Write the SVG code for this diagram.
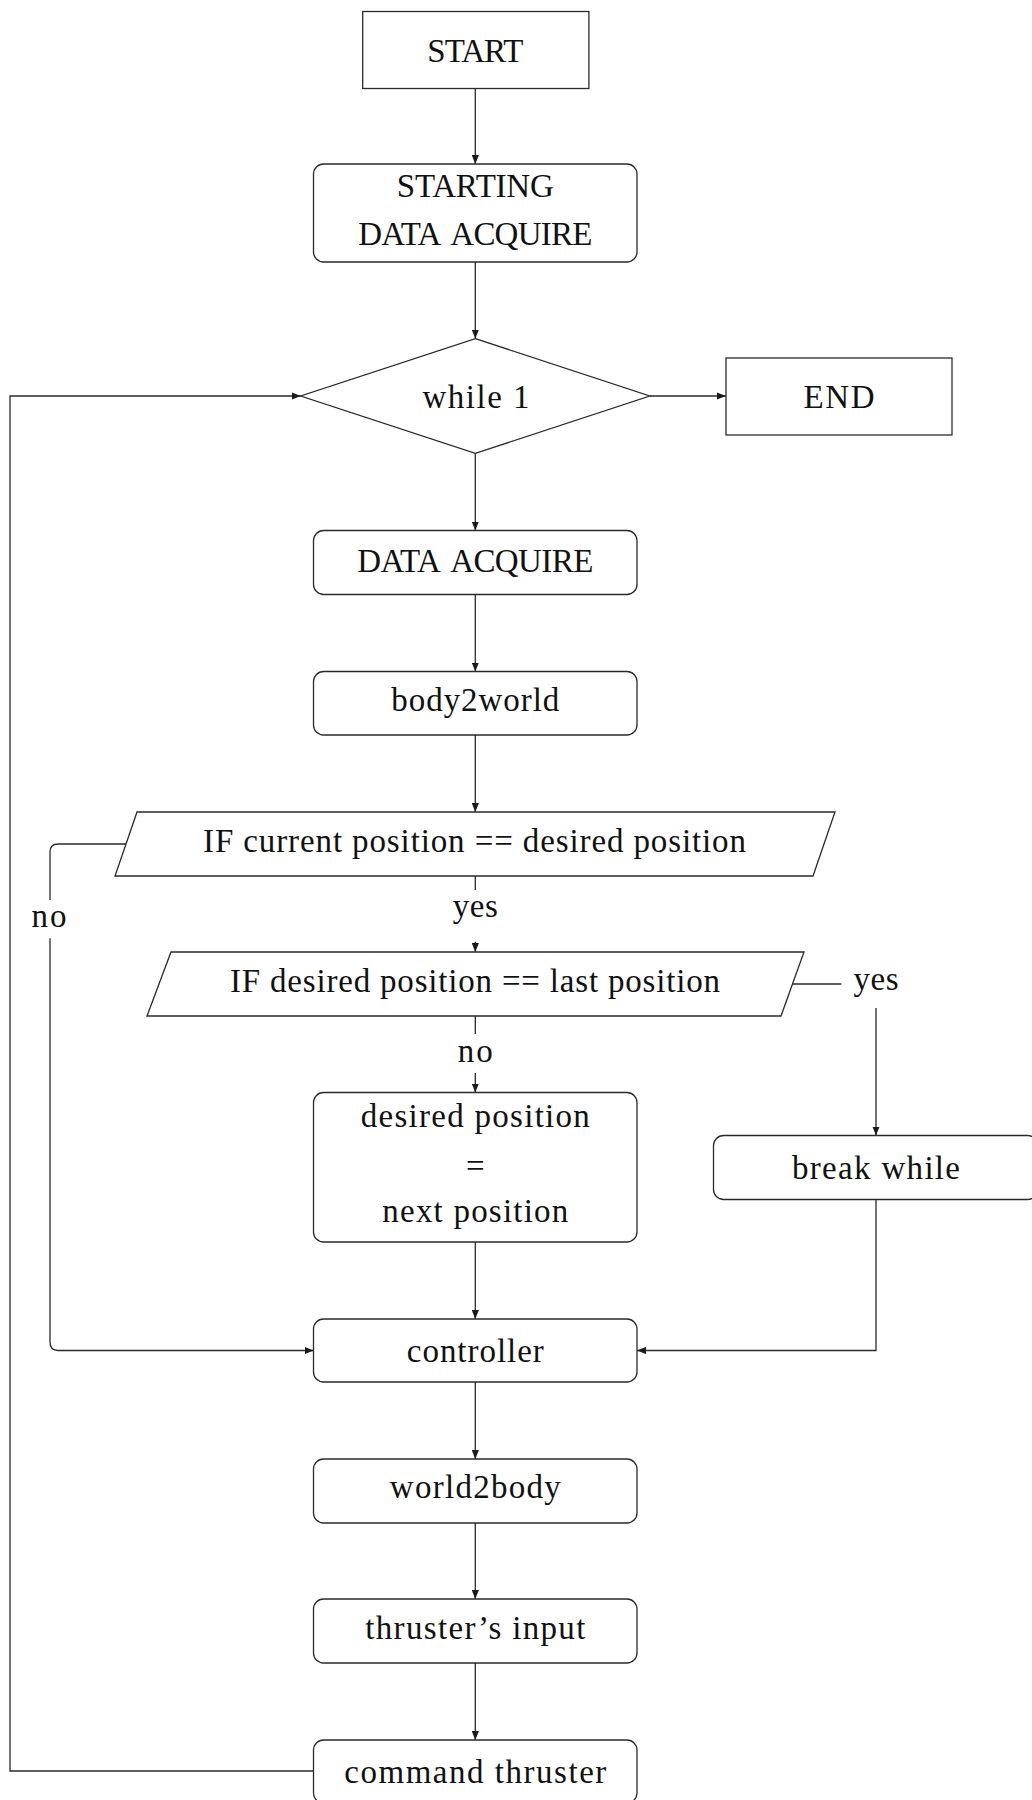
<svg xmlns="http://www.w3.org/2000/svg" width="1032" height="1800" viewBox="0 0 1032 1800">
  <style>
    .box { fill: #ffffff; stroke: #2a2a2a; stroke-width: 1.3; }
    .edge { fill: none; stroke: #2a2a2a; stroke-width: 1.3; }
    .arr { marker-end: url(#arrow); }
    text { font-family: "Liberation Serif", "Times New Roman", serif; font-size: 33px; fill: #111111; text-anchor: middle; }
    .wide { word-spacing: 6px; }
  </style>
  <defs>
    <marker id="arrow" viewBox="0 0 10 8" refX="10" refY="4" markerWidth="9" markerHeight="7.5" markerUnits="userSpaceOnUse" orient="auto">
      <path d="M0,0 L10,4 L0,8 z" fill="#1a1a1a"/>
    </marker>
  </defs>
  <rect width="1032" height="1800" fill="#ffffff"/>

  <g id="connectors">
    <path class="edge arr" d="M475.3 88.4 V164"/>
    <path class="edge arr" d="M475.3 262 V338.6"/>
    <path class="edge arr" d="M649.7 396 H726"/>
    <path class="edge arr" d="M475.3 453.4 V530.5"/>
    <path class="edge arr" d="M475.3 594.5 V671.5"/>
    <path class="edge arr" d="M475.3 735 V812"/>
    <path class="edge" d="M475.3 876 V890"/>
    <path class="edge arr" d="M475.3 941.7 V952"/>
    <path class="edge" d="M475.3 1016 V1034"/>
    <path class="edge arr" d="M475.3 1073 V1092.5"/>
    <path class="edge arr" d="M475.3 1242 V1319"/>
    <path class="edge arr" d="M475.3 1382 V1459"/>
    <path class="edge arr" d="M475.3 1523 V1599"/>
    <path class="edge arr" d="M475.3 1663 V1740"/>
    <path class="edge arr" d="M313.5 1771 H10 V396 H300.8"/>
    <path class="edge" d="M126 844 H58 Q50 844 50 852 V900"/>
    <path class="edge arr" d="M50 938.3 V1342 Q50 1350.5 58 1350.5 H313.5"/>
    <path class="edge" d="M792.5 984 H841.4"/>
    <path class="edge arr" d="M876 1008 V1135.5"/>
    <path class="edge arr" d="M876 1199.5 V1350.5 H637"/>
    <text x="475.3" y="916.7" textLength="45" lengthAdjust="spacing">yes</text>
    <text x="475.3" y="1061.7" textLength="35" lengthAdjust="spacing">no</text>
    <text x="49" y="926.7" textLength="35" lengthAdjust="spacing">no</text>
    <text x="876" y="990" textLength="45" lengthAdjust="spacing">yes</text>
  </g>

  <g id="start">
    <rect class="box" x="362.7" y="11.5" width="226.2" height="77"/>
    <text x="475.3" y="61.5" textLength="96" lengthAdjust="spacing">START</text>
  </g>
  <g id="starting-data-acquire">
    <rect class="box" x="313.5" y="164" width="323.5" height="98" rx="10" ry="10"/>
    <text x="475.3" y="197.3" textLength="157" lengthAdjust="spacing">STARTING</text>
    <text class="wide" x="475.3" y="245" textLength="234" lengthAdjust="spacing">DATA ACQUIRE</text>
  </g>
  <g id="while">
    <polygon class="box" points="475.3,338.6 649.7,396 475.3,453.4 300.8,396"/>
    <text x="476" y="407.5" textLength="107" lengthAdjust="spacing">while 1</text>
  </g>
  <g id="end">
    <rect class="box" x="726" y="358" width="226" height="77"/>
    <text x="839" y="407.5" textLength="71" lengthAdjust="spacing">END</text>
  </g>
  <g id="data-acquire">
    <rect class="box" x="313.5" y="530.5" width="323.5" height="64" rx="10" ry="10"/>
    <text class="wide" x="475.3" y="571.7" textLength="236" lengthAdjust="spacing">DATA ACQUIRE</text>
  </g>
  <g id="body2world">
    <rect class="box" x="313.5" y="671.5" width="323.5" height="63.5" rx="10" ry="10"/>
    <text x="475.3" y="710.5" textLength="168" lengthAdjust="spacing">body2world</text>
  </g>
  <g id="if-current">
    <polygon class="box" points="137,812 835,812 813,876 115,876"/>
    <text x="474.5" y="851.7" textLength="543" lengthAdjust="spacing">IF current position == desired position</text>
  </g>
  <g id="if-desired">
    <polygon class="box" points="171,952 804,952 781,1016 147,1016"/>
    <text x="475" y="991.7" textLength="490" lengthAdjust="spacing">IF desired position == last position</text>
  </g>
  <g id="desired-next">
    <rect class="box" x="313.5" y="1092.5" width="323.5" height="149.5" rx="10" ry="10"/>
    <text x="475.3" y="1126.7" textLength="229" lengthAdjust="spacing">desired position</text>
    <text x="475.3" y="1177">=</text>
    <text x="475.3" y="1221.7" textLength="186" lengthAdjust="spacing">next position</text>
  </g>
  <g id="break-while">
    <rect class="box" x="713.5" y="1135.5" width="324" height="64" rx="10" ry="10"/>
    <text x="876" y="1179" textLength="168" lengthAdjust="spacing">break while</text>
  </g>
  <g id="controller">
    <rect class="box" x="313.5" y="1319" width="323.5" height="63" rx="10" ry="10"/>
    <text x="475.3" y="1362" textLength="137" lengthAdjust="spacing">controller</text>
  </g>
  <g id="world2body">
    <rect class="box" x="313.5" y="1459" width="323.5" height="64" rx="10" ry="10"/>
    <text x="475.3" y="1498" textLength="171" lengthAdjust="spacing">world2body</text>
  </g>
  <g id="thrusters-input">
    <rect class="box" x="313.5" y="1599" width="323.5" height="64" rx="10" ry="10"/>
    <text x="475.3" y="1639" textLength="220" lengthAdjust="spacing">thruster’s input</text>
  </g>
  <g id="command-thruster">
    <rect class="box" x="313.5" y="1740" width="323.5" height="63" rx="10" ry="10"/>
    <text x="475.3" y="1783" textLength="262" lengthAdjust="spacing">command thruster</text>
  </g>
</svg>
